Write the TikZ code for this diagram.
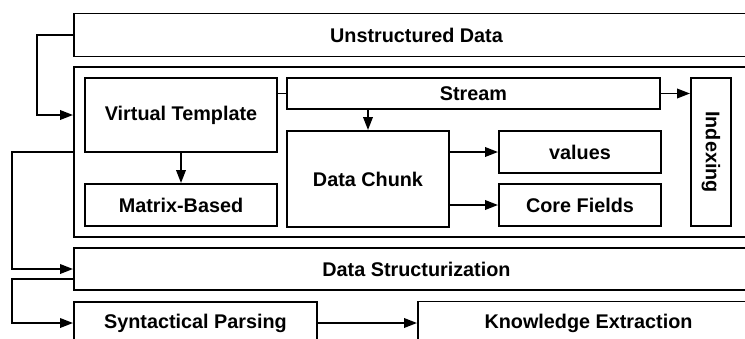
\documentclass[tikz,border=0pt]{standalone}
\usepackage{fontspec}
\setmainfont{Liberation Sans}
\usetikzlibrary{arrows.meta,calc}
\begin{document}
\begin{tikzpicture}[x=1pt,y=-1pt,
  box/.style={draw,line width=1.9pt,rectangle,inner sep=0pt,
    font=\fontsize{19.8}{23}\selectfont\bfseries},
  link/.style={line width=1.9pt},
  arr/.style={line width=1.9pt,-{Triangle[length=13pt,width=9.5pt]}}]
\useasboundingbox (0,0) rectangle (745,338);
\clip (0,0) rectangle (745,338);
% outer layers
\node[box,minimum width=685pt,minimum height=43pt] (ud) at (416.5,35) {Unstructured Data};
\node[box,minimum width=685pt,minimum height=170pt] (cont) at (416.5,152) {};
\node[box,minimum width=685pt,minimum height=42pt] (ds) at (416.5,269) {Data Structurization};
\node[box,minimum width=243pt,minimum height=42pt] (sp) at (195.5,323) {Syntactical Parsing};
\node[box,minimum width=341pt,minimum height=43pt] (ke) at (588.5,323) {Knowledge Extraction};
% inner components
\node[box,minimum width=192pt,minimum height=74pt] (vt) at (181,115) {Virtual Template};
\node[box,minimum width=192pt,minimum height=42pt] (mb) at (181,205) {Matrix-Based};
\node[box,minimum width=373pt,minimum height=31pt] (st) at (473.5,93.5) {Stream};
\node[box,minimum width=162pt,minimum height=96pt] (dc) at (368,179) {Data Chunk};
\node[box,minimum width=162pt,minimum height=42pt] (va) at (580,152) {values};
\node[box,minimum width=162pt,minimum height=42pt] (cf) at (580,205) {Core Fields};
\node[box,minimum width=40pt,minimum height=148pt] (ix) at (711,152) {\rotatebox{-90}{Indexing}};
% connectors
\draw[arr] (ud.west) -- ++(-36,0) |- (vt.west -| cont.west);
\draw[link] (vt.east |- st.west) -- (st.west);
\draw[arr] (dc.north |- st.south) -- (dc.north);
\draw[arr] (st.east) -- (st.east -| ix.west);
\draw[arr] (dc.east |- va.west) -- (va.west);
\draw[arr] (dc.east |- cf.west) -- (cf.west);
\draw[arr] (vt.south) -- (mb.north);
\draw[arr] (cont.west) -- ++(-61,0) |- (ds.west);
\draw[arr] ($(ds.west)+(0,10)$) -- ++(-61,0) |- (sp.west);
\draw[arr] (sp.east) -- (ke.west);
\end{tikzpicture}
\end{document}
